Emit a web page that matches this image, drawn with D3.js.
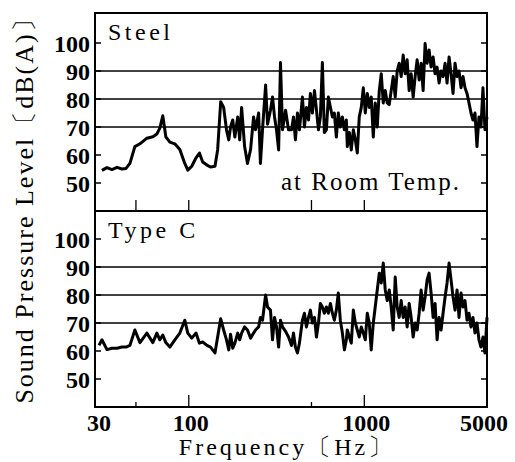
<!DOCTYPE html>
<html>
<head>
<meta charset="utf-8">
<script src="https://d3js.org/d3.v7.min.js"></script>
<style>
	body {
		margin: 0;
		background-color: #fff;
	}
	svg {
		display: block;
	}
	svg text {
		font-family: "Liberation Serif", serif !important;
	}
</style>
</head>
<body>
<div id="chart"></div>
<script>
// frequency points (Hz), shared by both spectra
var freqHz = [30.8, 32.0, 34.2, 36.5, 39.0, 41.6, 43.9, 46.2, 49.3, 52.7,
	57.7, 62.4, 65.8, 68.4, 71.1, 74.0, 78.0, 83.3, 88.9, 94.9,
	98.7, 104, 110, 115, 120, 127, 133, 141, 146, 152,
	158, 164, 169, 173, 178, 183, 190, 195, 200, 208,
	216, 225, 234, 240, 250, 256, 263, 274, 281, 292,
	300, 308, 316, 325, 333, 342, 356, 370, 385, 395,
	405, 416, 427,
	444, 456, 468, 481, 493, 506, 520, 534, 548, 562, 577, 592, 608, 624, 641, 658, 675, 693, 711, 730, 750, 770, 790,
	800,
	822, 843, 866, 889, 912, 936, 961, 987, 1013, 1040,
	1067, 1095, 1125, 1154, 1185, 1217, 1249, 1282, 1316, 1351,
	1387, 1423, 1461, 1500, 1539, 1580, 1622, 1665, 1709, 1754,
	1801, 1849, 1898, 1948, 2000, 2053, 2107, 2163, 2220, 2279,
	2339, 2402, 2466, 2531, 2598, 2667, 2737, 2810, 2885, 2961,
	3040, 3120, 3203, 3288, 3375, 3464, 3557, 3650, 3747, 3847,
	3948, 4053, 4160, 4271, 4384, 4500, 4620, 4742, 4868, 5000];

// Steel, at room temperature (dB(A))
var steelLevel = [null, 54.5, 55.5, 54.8, 55.6, 55, 55.2, 57, 63, 64,
	66, 66.5, 67.5, 69.6, 74, 66.5, 64.6, 64, 62, 57,
	54.6, 56, 59, 60.7, 57.5, 56.4, 55.7, 56, 61.8, 79,
	77, 69, 65.4, 70, 72.5, 66.4, 73.6, 65.4, 77, 63,
	57, 62, 73.6, 69, 75, 57, 69, 85, 71, 76,
	80.7, 73.6, 69, 61.8, 93, 69, 76, 69, 69, 73.6,
	65.4, 75, 69,
	80.7, 70, 77, 72.5, 82, 75, 83, 76, 69, 73.6, 93, 68, 69, 80.7, 77, 73.6, 75, 66.4, 75, 70, 73.6, 69, 72.5,
	63,
	68, 61.8, 69, 65.4, 60.7, 73.6, 77, 84, 75, 82,
	77, 80.7, 66.4, 78.6, 70, 83, 89, 78.6, 83, 78.6,
	78, 83, 88, 80.7, 90, 92.8, 88, 95.7, 89, 94,
	83, 89, 80.7, 88, 94, 86.8, 92.8, 83, 99.8, 92.8,
	97.5, 91.4, 95, 89, 91.4, 85.7, 90, 88, 92.8, 85.7,
	95, 89, 82, 92.8, 88, 90, 84, 88, 84, 82,
	78.6, 75, 72.5, 75, 63, 73.6, 70, 84, 69, 73.6];

// Type C (dB(A))
var typeCLevel = [62, 64, 60.5, 61, 61, 61.4, 61.4, 62, 67.5, 63,
	66.4, 63, 66.4, 64, 65.7, 63, 61.4, 64, 66.4, 71,
	66.4, 64.6, 66.4, 62.8, 63.2, 62, 61.4, 59.3, 65, 71.5,
	67.5, 64, 60.4, 66, 61, 62.8, 66.4, 64, 66.4, 68.6,
	67.5, 64.6, 66.4, 67.5, 68.6, 72, 71, 80, 75.7, 74.6,
	64, 72, 68.6, 61.4, 71, 68.6, 67, 65, 62, 66.4,
	61.4, 59.3, 62.8,
	71, 73.5, 68.6, 72, 74.6, 70, 72, 65, 70, 77, 75.7, 73.5, 75.7, 73.5, 77, 73.5, 71, 74.6, 80.7, 71, 66.4, 60.4, 64,
	67.5,
	65, 62.8, 74.6, 70, 67.5, 65, 68.6, 66.4, 64, 73.5,
	70, 60.4, 70, 75.7, 81.8, 87.8, 84.3, 91.4, 81.8, 78,
	81.8, 75.7, 67.5, 86.4, 75.7, 72, 78, 72, 75.7, 68.6,
	77, 72, 65, 70, 67.5, 73.5, 81.8, 74.6, 79.3, 85.4,
	87.8, 80.7, 72, 77, 64, 72, 67.5, 73.5, 79.3, 84.3,
	91.4, 85.4, 79.3, 74.6, 81.8, 72, 80.7, 75.7, 78, 71,
	73.5, 68.6, 72, 66.4, 70, 64, 61.4, 65, 59.3, 72];

var levelTicks = [50, 60, 70, 80, 90, 100];
var gridLevels = [70, 80, 90];
var freqTicks = [50, 100, 500, 1000];
var freqLabels = [30, 100, 1000, 5000];

var width = 515;
var height = 462;
var boxLeft = 95;
var boxRight = 487;
var serifFont = "Liberation Serif";

var svg = d3.select("#chart").append("svg")
	.attr("width", width)
	.attr("height", height);

var x = d3.scaleLog()
	.domain([30, 5000])
	.range([97, 487]);

var panels = [
	{name: "Steel", values: steelLevel, top: 13, bottom: 211, labelY: 40, tickLen: [11, 11, 11, 11]},
	{name: "Type C", values: typeCLevel, top: 211, bottom: 407, labelY: 238, tickLen: [5, 12, 5, 12]}
];

panels.forEach(function(p) {
	var y = d3.scaleLinear()
		.domain([40, 110])
		.range([p.bottom, p.bottom - 196]);
	var g = svg.append("g");

	// horizontal lines
	g.selectAll(".grid")
		.data(gridLevels)
		.enter()
		.append("line")
		.attr("x1", boxLeft)
		.attr("x2", boxRight)
		.attr("y1", function(d) { return y(d); })
		.attr("y2", function(d) { return y(d); })
		.attr("stroke", "#000")
		.attr("stroke-width", 1.3);

	// level ticks, inward, both sides
	g.selectAll(".ltick")
		.data(levelTicks)
		.enter()
		.append("path")
		.attr("d", function(d) {
			return "M" + boxLeft + "," + y(d) + "h6M" + boxRight + "," + y(d) + "h-6";
		})
		.attr("stroke", "#000")
		.attr("stroke-width", 1.3);

	g.selectAll(".llabel")
		.data(levelTicks)
		.enter()
		.append("text")
		.text(function(d) { return d; })
		.attr("x", 90)
		.attr("y", function(d) { return y(d) + 9; })
		.attr("text-anchor", "end")
		.style("font-family", serifFont)
		.style("font-size", "24px")
		.style("font-weight", "bold");

	// frequency ticks, inward from the bottom
	g.selectAll(".ftick")
		.data(freqTicks)
		.enter()
		.append("line")
		.attr("x1", function(d) { return x(d); })
		.attr("x2", function(d) { return x(d); })
		.attr("y1", p.bottom)
		.attr("y2", function(d, i) { return p.bottom - p.tickLen[i]; })
		.attr("stroke", "#000")
		.attr("stroke-width", 1.3);

	var line = d3.line()
		.defined(function(d) { return d != null; })
		.x(function(d, i) { return x(freqHz[i]); })
		.y(function(d) { return y(d); });

	g.append("path")
		.datum(p.values)
		.attr("d", line)
		.attr("fill", "none")
		.attr("stroke", "#000")
		.attr("stroke-width", 3)
		.attr("stroke-linejoin", "round");

	g.append("rect")
		.attr("x", boxLeft)
		.attr("y", p.top)
		.attr("width", boxRight - boxLeft)
		.attr("height", p.bottom - p.top)
		.attr("fill", "none")
		.attr("stroke", "#000")
		.attr("stroke-width", 2);

	g.append("text")
		.text(p.name)
		.attr("x", 108)
		.attr("y", p.labelY)
		.style("font-family", serifFont)
		.style("font-size", "24px")
		.style("letter-spacing", "3.5px");
});

svg.append("text")
	.text("at Room Temp.")
	.attr("x", 461)
	.attr("y", 190)
	.attr("text-anchor", "end")
	.style("font-family", serifFont)
	.style("font-size", "25px")
	.style("letter-spacing", "2px");

svg.selectAll(".flabel")
	.data(freqLabels)
	.enter()
	.append("text")
	.text(function(d) { return d; })
	.attr("x", function(d) { return d == 5000 ? x(d) - 3 : x(d) + 2; })
	.attr("y", 431)
	.attr("text-anchor", "middle")
	.style("font-family", serifFont)
	.style("font-size", "24px")
	.style("font-weight", "bold");

svg.append("text")
	.text("Frequency〔Hz〕")
	.attr("x", 287)
	.attr("y", 455)
	.attr("text-anchor", "middle")
	.style("font-family", serifFont)
	.style("font-size", "24px")
	.style("letter-spacing", "3px");

svg.append("text")
	.text("Sound Pressure Level〔dB(A)〕")
	.attr("transform", "translate(33,204) rotate(-90)")
	.attr("text-anchor", "middle")
	.style("font-family", serifFont)
	.style("font-size", "26px")
	.style("letter-spacing", "2px");
</script>
</body>
</html>
